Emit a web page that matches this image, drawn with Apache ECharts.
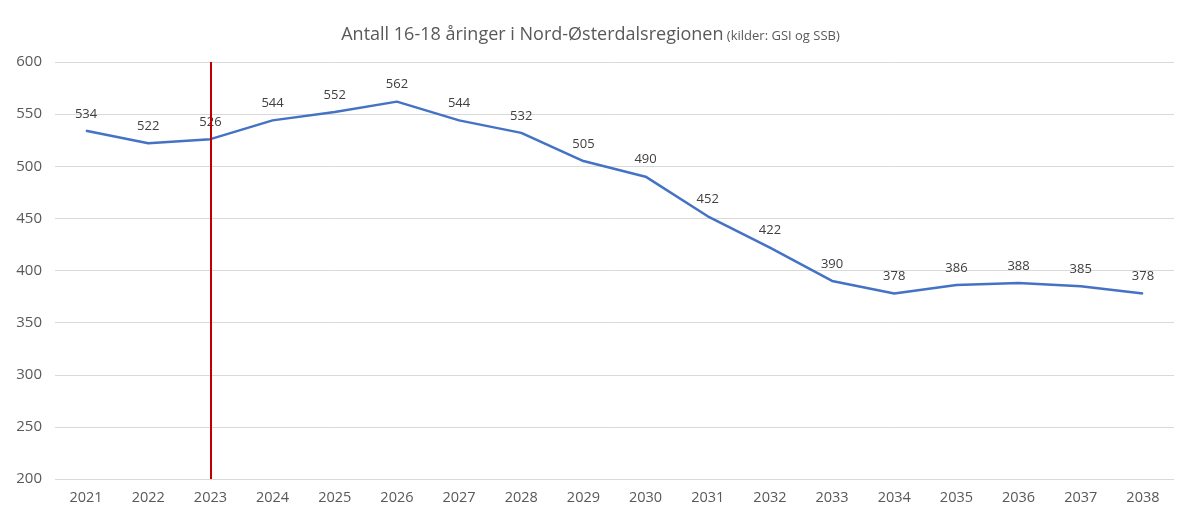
<!DOCTYPE html>
<html>
<head>
<meta charset="utf-8">
<script src="https://cdn.jsdelivr.net/npm/echarts@6/dist/echarts.min.js"></script>
<style>
  html, body { margin: 0; padding: 0; background: #fff; }
  #chart { width: 1181px; height: 511px; }
</style>
</head>
<body>
<div id="chart"></div>
<script>
var years = ['2021', '2022', '2023', '2024', '2025', '2026', '2027', '2028', '2029',
  '2030', '2031', '2032', '2033', '2034', '2035', '2036', '2037', '2038'];
var antall = [534, 522, 526, 544, 552, 562, 544, 532, 505, 490, 452, 422, 390, 378, 386, 388, 385, 378];
var markYear = '2023';

var myChart = echarts.init(document.getElementById('chart'));
var option = {
  backgroundColor: '#fff',
  textStyle: { fontFamily: 'Open Sans' },
  title: {
    text: '{main|Antall 16-18 åringer i Nord-Østerdalsregionen}{sub| (kilder: GSI og SSB)}',
    left: 'center',
    top: 21,
    textStyle: {
      rich: {
        main: { fontSize: 18, color: '#595959', fontFamily: 'Open Sans', fontWeight: 'normal' },
        sub: { fontSize: 13, color: '#595959', fontFamily: 'Open Sans', fontWeight: 'normal', padding: [3, 0, 0, 0] }
      }
    }
  },
  grid: { left: 55, right: 7, top: 62, bottom: 32, containLabel: false },
  xAxis: {
    type: 'category',
    data: years,
    boundaryGap: true,
    axisLine: { show: false },
    axisTick: { show: false },
    axisLabel: { color: '#595959', fontSize: 14.5, margin: 11 }
  },
  yAxis: {
    type: 'value',
    min: 200,
    max: 600,
    interval: 50,
    axisLine: { show: false },
    axisTick: { show: false },
    axisLabel: { color: '#595959', fontSize: 15, margin: 13 },
    splitLine: { lineStyle: { color: '#d9d9d9', width: 1 } }
  },
  series: [{
    type: 'line',
    data: antall,
    symbol: 'circle',
    symbolSize: 1,
    showSymbol: true,
    itemStyle: { color: '#4472c4' },
    lineStyle: { color: '#4472c4', width: 2.5 },
    label: {
      show: true,
      position: 'top',
      distance: 10,
      color: '#404040',
      fontSize: 13
    },
    markLine: {
      silent: true,
      symbol: 'none',
      label: { show: false },
      lineStyle: { color: '#c00000', width: 2, type: 'solid' },
      data: [{ xAxis: markYear }]
    }
  }]
};
myChart.setOption(option);
</script>
</body>
</html>
